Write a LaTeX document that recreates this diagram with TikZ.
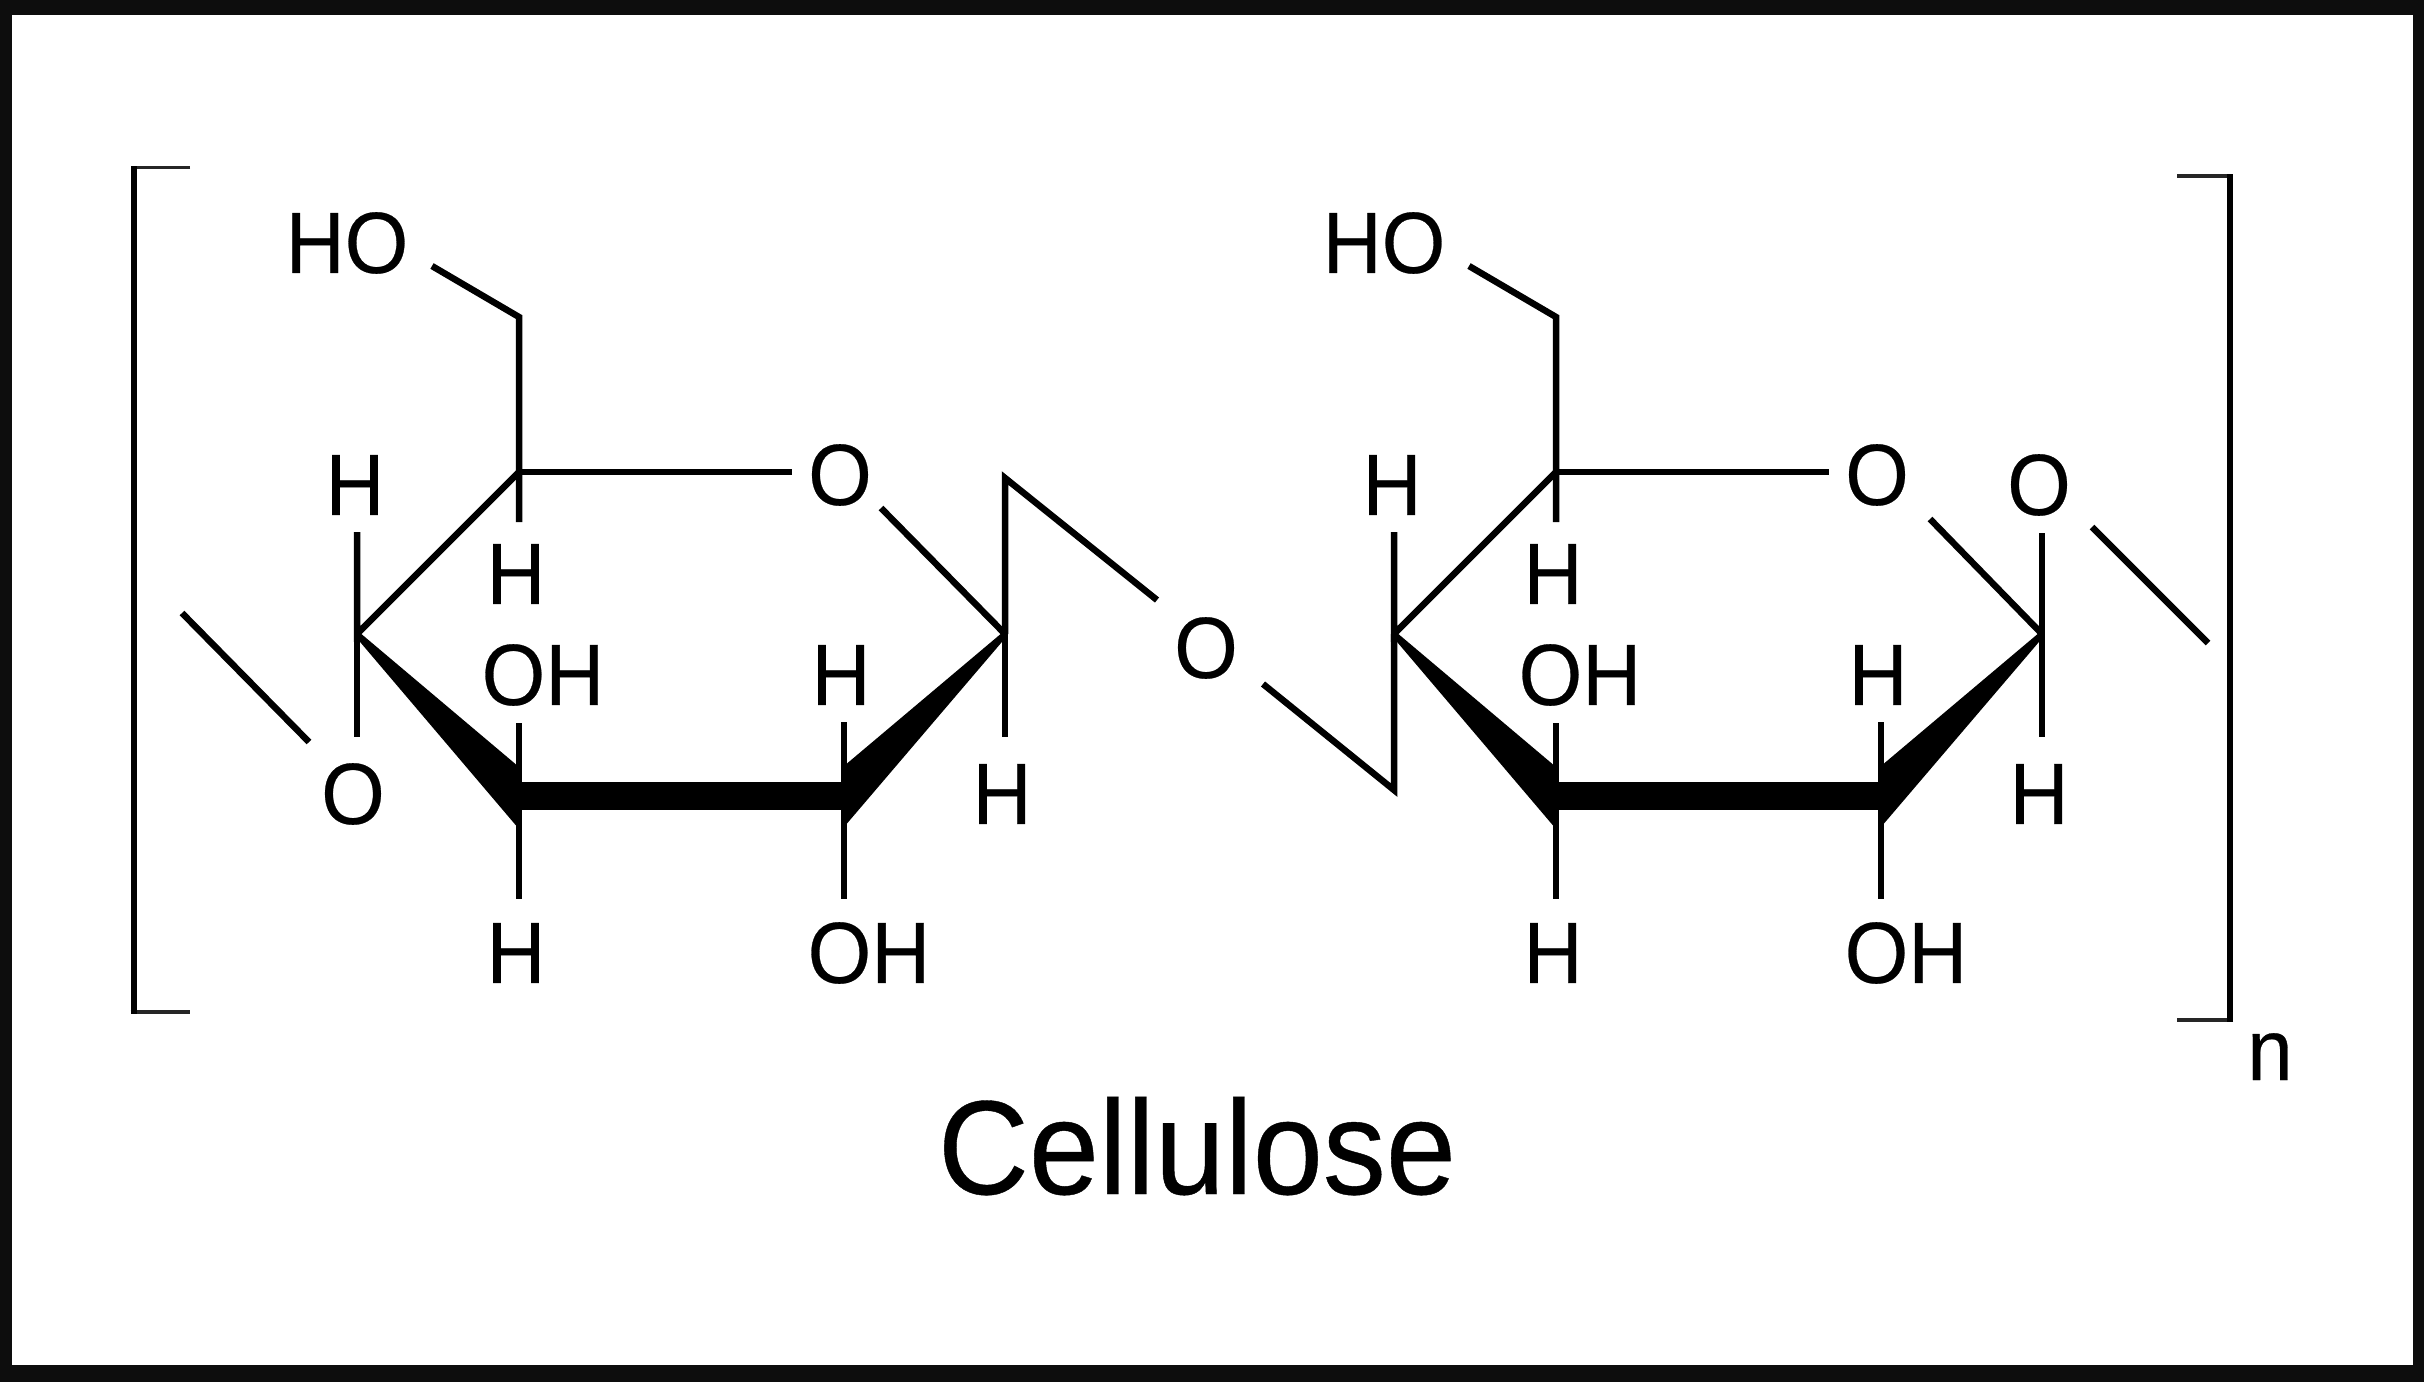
\documentclass[tikz,border=0pt]{standalone}
\usepackage{fontspec}
\setmainfont[FakeStretch=0.94,FakeBold=0.3]{Liberation Sans}
\definecolor{framecol}{HTML}{0D0D0D}
\newcommand{\ringunit}[2]{%
  % ring atoms and free bond ends
  \coordinate (cl) at (357,634);
  \coordinate (ct) at (519,472);
  \coordinate (cm) at (519,317);
  \coordinate (cr) at (1005,634);
  \coordinate (ca) at (519,796);
  \coordinate (cb) at (844,796);
  \coordinate (hoE) at (432,266);
  \coordinate (oE1) at (792,472);
  \coordinate (oE2) at (#1,#2);
  \coordinate (hE1) at (357,532);
  \coordinate (hE2) at (519,522);
  \coordinate (hE3) at (519,723);
  \coordinate (hE4) at (519,899);
  \coordinate (hE5) at (844,722);
  \coordinate (hE6) at (844,899);
  \coordinate (hE7) at (1005,737);
  % labels
  \node[atom] (lHO) at (347,243) {HO};
  \node[atom] (lO)  at (840,475) {O};
  \node[atom] (lH1) at (355,485) {H};
  \node[atom] (lH2) at (516,574) {H};
  \node[atom] (lOH) at (543,675) {OH};
  \node[atom] (lH3) at (841,675) {H};
  \node[atom] (lH4) at (516,953) {H};
  \node[atom] (lOHb) at (869,953) {OH};
  \node[atom] (lH5) at (1002,794) {H};
  % bonds
  \draw[bond] (hoE) -- (cm) -- (hE2);
  \draw[bond] (ct) -- (oE1);
  \draw[bond] (oE2) -- (cr);
  \draw[bond] (hE1) -- (cl) -- (ct);
  \draw[bond] (hE3) -- (hE4);
  \draw[bond] (hE5) -- (hE6);
  \draw[bond] (cr) -- (hE7);
  % wedges and front edge
  \fill (359,632) -- (519,767) -- (519,829) -- (355,636) -- cycle;
  \fill (1003,632) -- (844,766) -- (844,827) -- (1007,636) -- cycle;
  \draw[line width=28.5pt] (ca) -- (cb);
}
\begin{document}
\begin{tikzpicture}[x=1pt,y=-1pt,
  bond/.style={line width=6.5pt,black,line cap=butt,line join=miter},
  brackv/.style={line width=6.5pt,black},
  brackh/.style={line width=3.5pt,black!85},
  atom/.style={inner sep=0pt,text=black,font=\fontsize{87}{87}\selectfont}]
  \useasboundingbox (0,0) rectangle (2424,1382);
  % frame
  \fill[framecol] (0,0) rectangle (2424,1382);
  \fill[white] (12,15) rectangle (2413,1365);
  % repeat units
  \begin{scope}[name prefix=a-]
    \ringunit{881}{508}
  \end{scope}
  \begin{scope}[xshift=1037pt,name prefix=b-]
    \ringunit{893}{519}
  \end{scope}
  % brackets
  \coordinate (bl1) at (190,167.5);
  \coordinate (bl2) at (130.5,167.5);
  \coordinate (bl3) at (130.5,1012);
  \coordinate (bl4) at (190,1012);
  \coordinate (blt) at (134,166);
  \coordinate (blb) at (134,1013.5);
  \coordinate (br1) at (2177,176);
  \coordinate (br2) at (2233,176);
  \coordinate (br3) at (2233,1020);
  \coordinate (br4) at (2177,1020);
  \coordinate (brt) at (2230,174);
  \coordinate (brb) at (2230,1022);
  \draw[brackh] (bl1) -- (bl2);
  \draw[brackh] (bl3) -- (bl4);
  \draw[brackv] (blt) -- (blb);
  \draw[brackh] (br1) -- (br2);
  \draw[brackh] (br3) -- (br4);
  \draw[brackv] (brt) -- (brb);
  % left link
  \coordinate (lk1) at (182,613);
  \coordinate (lk2) at (309,742);
  \coordinate (lk3) at (357,737);
  \node[atom] (oL) at (353,794) {O};
  \draw[bond] (lk1) -- (lk2);
  \draw[bond] (a-cl) -- (lk3);
  % bridge
  \coordinate (bt) at (1005,478);
  \coordinate (bl) at (1157,600);
  \coordinate (bq) at (1263,684);
  \coordinate (bb) at (1394,790);
  \node[atom] (oB) at (1206,648) {O};
  \draw[bond] (a-cr) -- (bt) -- (bl);
  \draw[bond] (bq) -- (bb) -- (b-cl);
  % right link
  \coordinate (rk0) at (2042,533);
  \coordinate (rk1) at (2092,527);
  \coordinate (rk2) at (2208,643);
  \node[atom] (oR) at (2039,485) {O};
  \draw[bond] (rk0) -- (b-cr);
  \draw[bond] (rk1) -- (rk2);
  % texts
  \node[atom,anchor=base] (nn) at (2270,1080) {n};
  \node[inner sep=0pt,anchor=base,font=\fontsize{134}{134}\selectfont] (title) at (1197,1194) {Cellulose};
\end{tikzpicture}
\end{document}
